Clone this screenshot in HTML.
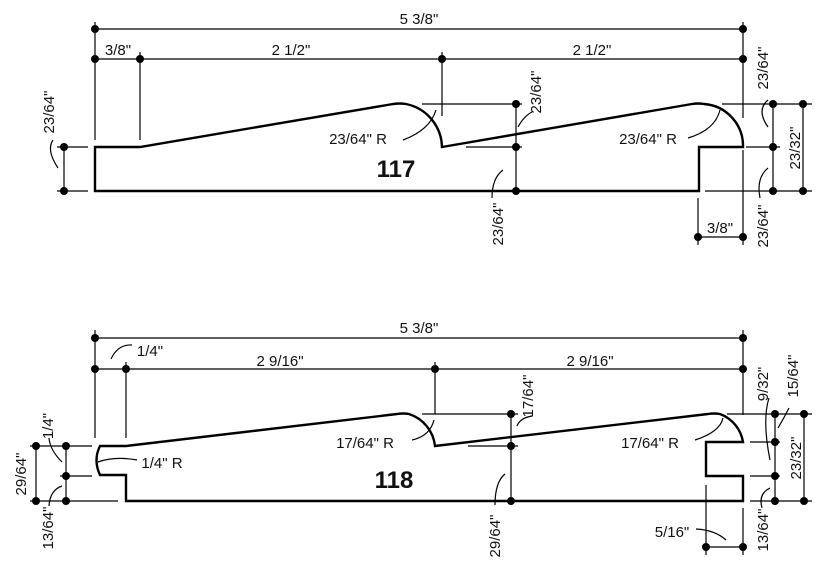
<!DOCTYPE html>
<html><head><meta charset="utf-8"><style>
html,body{margin:0;padding:0;background:#fff;}
svg{display:block;}
text{font-family:"Liberation Sans",sans-serif;font-size:15px;fill:#111;}
.b{font-weight:bold;font-size:24px;}
</style></head><body>
<svg width="825" height="576" viewBox="0 0 825 576" xmlns="http://www.w3.org/2000/svg">
<defs><circle id="d" r="4" fill="#000"/></defs>
<g stroke="#000" stroke-width="1.2" fill="none">
<!-- ===== 117 ===== -->
<line x1="95" y1="29" x2="743" y2="29"/>
<line x1="95" y1="59" x2="743" y2="59"/>
<line x1="95" y1="22" x2="95" y2="140"/>
<line x1="140" y1="52" x2="140" y2="140"/>
<line x1="442" y1="52" x2="442" y2="116"/>
<line x1="743" y1="22" x2="743" y2="118"/>
<line x1="57" y1="147" x2="88" y2="147"/>
<line x1="57" y1="191" x2="88" y2="191"/>
<line x1="64" y1="147" x2="64" y2="191"/>
<line x1="422" y1="104" x2="522" y2="104"/>
<line x1="466" y1="147" x2="522" y2="147"/>
<line x1="516" y1="104" x2="516" y2="191"/>
<line x1="722" y1="104" x2="812" y2="104"/>
<line x1="746" y1="147" x2="780" y2="147"/>
<line x1="705" y1="191" x2="812" y2="191"/>
<line x1="773" y1="104" x2="773" y2="191"/>
<line x1="803" y1="104" x2="803" y2="191"/>
<line x1="698" y1="198" x2="698" y2="245"/>
<line x1="743" y1="150" x2="743" y2="245"/>
<line x1="698" y1="237" x2="743" y2="237"/>
<!-- leaders -->
<path d="M53 140 Q46 150 58 168"/>
<path d="M403 140 Q430 130 436 110"/>
<path d="M688 138 Q715 130 720 110"/>
<path d="M518 127 Q524 116 532 112"/>
<path d="M503 170 Q492 178 492 198"/>
<path d="M768 100 Q756 110 768 127"/>
<path d="M768 168 Q756 178 760 198"/>
<!-- profile 117 -->
<path d="M95 147 L140 147 L393 104 Q400 103 406 104 A45 45 0 0 1 442 147 L692 104 Q698 103 704 104 A42 42 0 0 1 743 147 L699 147 L699 191 L95 191 Z" stroke-width="2.4"/>

<!-- ===== 118 ===== -->
<line x1="95" y1="338" x2="743" y2="338"/>
<line x1="95" y1="369" x2="743" y2="369"/>
<line x1="95" y1="330" x2="95" y2="438"/>
<line x1="126" y1="362" x2="126" y2="438"/>
<line x1="435" y1="362" x2="435" y2="414"/>
<line x1="743" y1="330" x2="743" y2="415"/>
<line x1="30" y1="446" x2="92" y2="446"/>
<line x1="60" y1="476" x2="92" y2="476"/>
<line x1="30" y1="501" x2="118" y2="501"/>
<line x1="36" y1="446" x2="36" y2="501"/>
<line x1="66" y1="446" x2="66" y2="501"/>
<line x1="422" y1="414" x2="518" y2="414"/>
<line x1="468" y1="446" x2="518" y2="446"/>
<line x1="511" y1="414" x2="511" y2="501"/>
<line x1="727" y1="414" x2="812" y2="414"/>
<line x1="750" y1="442" x2="780" y2="442"/>
<line x1="750" y1="476" x2="780" y2="476"/>
<line x1="750" y1="501" x2="812" y2="501"/>
<line x1="775" y1="414" x2="775" y2="501"/>
<line x1="804" y1="414" x2="804" y2="501"/>
<line x1="706" y1="485" x2="706" y2="555"/>
<line x1="743" y1="508" x2="743" y2="555"/>
<line x1="706" y1="547" x2="743" y2="547"/>
<!-- leaders -->
<path d="M132 345 Q118 344 111 359"/>
<path d="M49 438 Q50 450 62 462"/>
<path d="M62 486 Q50 490 49 506"/>
<path d="M98 462 Q115 456 137 460"/>
<path d="M412 440 Q430 436 434 420"/>
<path d="M695 440 Q720 432 723 418"/>
<path d="M517 426 Q520 418 532 416"/>
<path d="M505 474 Q495 482 495 505"/>
<path d="M769 398 Q762 420 770 460"/>
<path d="M789 408 Q784 418 778 428"/>
<path d="M770 488 Q758 494 762 508"/>
<path d="M696 529 Q715 530 726 540"/>
<!-- profile 118 -->
<path d="M100 446 L126 446 L397 414 Q403 413 409 414 A38 38 0 0 1 435 446 L708 414 Q714 413 720 414 A36 36 0 0 1 743 442 L706 442 L706 476 L743 476 L743 501 L126 501 L126 475 L100 475 Q93 460 100 446 Z" stroke-width="2.4"/>
</g>
<g fill="#000">
<use href="#d" x="95" y="29"/><use href="#d" x="743" y="29"/>
<use href="#d" x="95" y="59"/><use href="#d" x="140" y="59"/><use href="#d" x="442" y="59"/><use href="#d" x="743" y="59"/>
<use href="#d" x="64" y="147"/><use href="#d" x="64" y="191"/>
<use href="#d" x="516" y="104"/><use href="#d" x="516" y="147"/><use href="#d" x="516" y="191"/>
<use href="#d" x="773" y="104"/><use href="#d" x="773" y="147"/><use href="#d" x="773" y="191"/>
<use href="#d" x="803" y="104"/><use href="#d" x="803" y="191"/>
<use href="#d" x="698" y="237"/><use href="#d" x="743" y="237"/>
<use href="#d" x="95" y="338"/><use href="#d" x="743" y="338"/>
<use href="#d" x="95" y="369"/><use href="#d" x="126" y="369"/><use href="#d" x="435" y="369"/><use href="#d" x="743" y="369"/>
<use href="#d" x="36" y="446"/><use href="#d" x="36" y="501"/>
<use href="#d" x="66" y="446"/><use href="#d" x="66" y="476"/><use href="#d" x="66" y="501"/>
<use href="#d" x="511" y="414"/><use href="#d" x="511" y="446"/><use href="#d" x="511" y="501"/>
<use href="#d" x="775" y="414"/><use href="#d" x="775" y="442"/><use href="#d" x="775" y="476"/><use href="#d" x="775" y="501"/>
<use href="#d" x="804" y="414"/><use href="#d" x="804" y="501"/>
<use href="#d" x="706" y="547"/><use href="#d" x="743" y="547"/>
</g>
<!-- texts 117 -->
<text x="419" y="24" text-anchor="middle">5 3/8"</text>
<text x="118" y="55" text-anchor="middle">3/8"</text>
<text x="291" y="55" text-anchor="middle">2 1/2"</text>
<text x="592" y="55" text-anchor="middle">2 1/2"</text>
<text x="358" y="144" text-anchor="middle">23/64" R</text>
<text x="648" y="144" text-anchor="middle">23/64" R</text>
<text class="b" x="396" y="177" text-anchor="middle">117</text>
<text x="720" y="233" text-anchor="middle">3/8"</text>
<text transform="translate(54,112) rotate(-90)" text-anchor="middle">23/64"</text>
<text transform="translate(541,92) rotate(-90)" text-anchor="middle">23/64"</text>
<text transform="translate(503,224) rotate(-90)" text-anchor="middle">23/64"</text>
<text transform="translate(768,68) rotate(-90)" text-anchor="middle">23/64"</text>
<text transform="translate(800,148) rotate(-90)" text-anchor="middle">23/32"</text>
<text transform="translate(768,226) rotate(-90)" text-anchor="middle">23/64"</text>
<!-- texts 118 -->
<text x="419" y="333" text-anchor="middle">5 3/8"</text>
<text x="150" y="356" text-anchor="middle">1/4"</text>
<text x="280" y="366" text-anchor="middle">2 9/16"</text>
<text x="590" y="366" text-anchor="middle">2 9/16"</text>
<text x="365" y="448" text-anchor="middle">17/64" R</text>
<text x="650" y="448" text-anchor="middle">17/64" R</text>
<text x="162" y="468" text-anchor="middle">1/4" R</text>
<text class="b" x="394" y="488" text-anchor="middle">118</text>
<text x="672" y="537" text-anchor="middle">5/16"</text>
<text transform="translate(53,426) rotate(-90)" text-anchor="middle">1/4"</text>
<text transform="translate(26,474) rotate(-90)" text-anchor="middle">29/64"</text>
<text transform="translate(53,528) rotate(-90)" text-anchor="middle">13/64"</text>
<text transform="translate(533,396) rotate(-90)" text-anchor="middle">17/64"</text>
<text transform="translate(500,536) rotate(-90)" text-anchor="middle">29/64"</text>
<text transform="translate(768,384) rotate(-90)" text-anchor="middle">9/32"</text>
<text transform="translate(798,376) rotate(-90)" text-anchor="middle">15/64"</text>
<text transform="translate(801,458) rotate(-90)" text-anchor="middle">23/32"</text>
<text transform="translate(768,530) rotate(-90)" text-anchor="middle">13/64"</text>
</svg>
</body></html>
